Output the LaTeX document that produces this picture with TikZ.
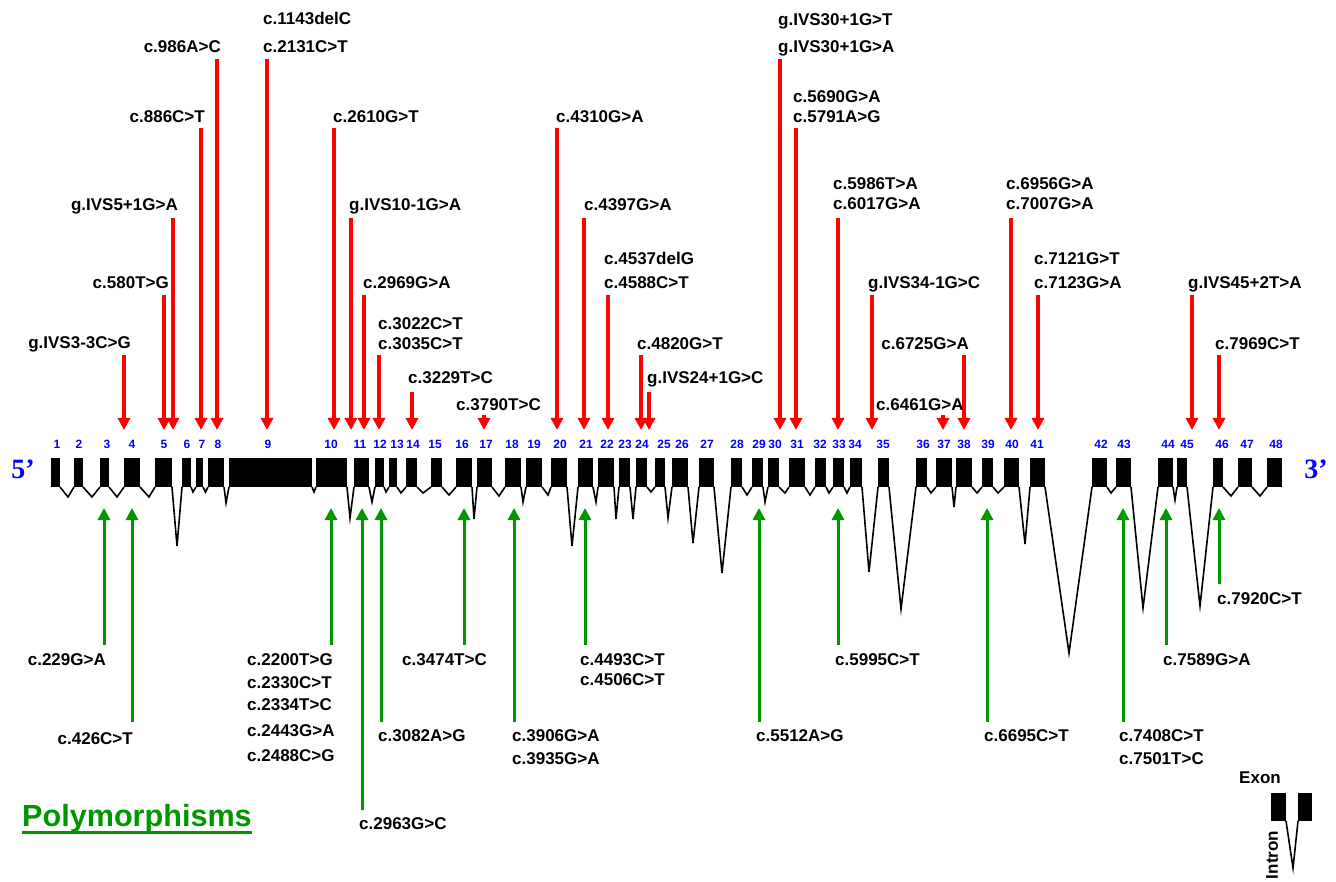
\documentclass[tikz,border=0pt]{standalone}
\usepackage{fontspec}
\setmainfont{Liberation Sans}
\newfontfamily\primefont{Liberation Serif}
\usetikzlibrary{arrows.meta}
\definecolor{mutred}{RGB}{255,0,0}
\definecolor{polygreen}{RGB}{0,150,0}
\definecolor{exblue}{RGB}{0,0,255}

\begin{document}
\begin{tikzpicture}[x=1pt,y=-1pt,
  lbl/.style={inner sep=0pt, font=\fontsize{17}{20}\selectfont\bfseries},
  num/.style={inner sep=0pt, text=exblue, font=\fontsize{12}{14}\selectfont\bfseries},
  prime/.style={inner sep=0pt, text=exblue, font=\primefont\bfseries\fontsize{28}{30}\selectfont},
  mutarrow/.style={draw=mutred, line width=3.5pt, -{Triangle[width=12pt,length=12pt]}},
  polyarrow/.style={draw=polygreen, line width=3pt, -{Triangle[width=12pt,length=12pt]}},
  exonbox/.style={fill=black, inner sep=0pt, outer sep=0pt, anchor=south west, minimum height=29pt},
  intronline/.style={draw=black, line width=1.6pt, line join=miter},
]
\useasboundingbox (0,0) rectangle (1336,882);

% ---- exons ----
\foreach \i/\a/\b in {1/51/60, 2/74/83, 3/100/109, 4/124/140, 5/155/172, 6/182/191,
  7/196/203, 8/208/224, 9/229/312, 10/316/347, 11/354/369, 12/375/384, 13/389/397,
  14/406/417, 15/431/442, 16/456/472, 17/477/492, 18/505/521, 19/526/542, 20/551/567,
  21/578/593, 22/598/614, 23/619/630, 24/636/647, 25/655/665, 26/672/688, 27/699/714,
  28/731/742, 29/752/763, 30/768/779, 31/789/805, 32/815/826, 33/833/844, 34/850/862,
  35/878/889, 36/916/927, 37/936/952, 38/956/972, 39/982/993, 40/1004/1019,
  41/1030/1045, 42/1092/1107, 43/1116/1131, 44/1158/1173, 45/1177/1187,
  46/1213/1223, 47/1238/1252, 48/1267/1282}
  \node[exonbox, minimum width={(\b-\a)*1pt}] (e\i) at (\a,487) {};

% ---- introns ----
\foreach \i/\x/\y in {1/68/497, 2/92/497, 3/117/497, 4/149/497, 5/177/546, 6/193/492,
  7/205.5/492, 8/226/503, 9/314/492, 10/350/518, 11/372/502, 12/386/492, 13/401/493,
  14/423/493, 15/449/495, 16/474/519, 17/499/496, 18/523/502, 19/548/495, 20/572/546,
  21/596/502, 22/616/519, 23/633/519, 24/651/492, 25/668/518, 26/693/543, 27/722/573,
  28/747/495, 29/765/502, 30/785/493, 31/810/495, 32/829/493, 33/847/493, 34/869/572,
  35/901/609, 36/931/493, 37/954/507, 38/977/493, 39/998/493, 40/1025/544,
  41/1069/653, 42/1111/493, 43/1143/608, 44/1175/500, 45/1200/606, 46/1231/496,
  47/1260/496}
{
  \pgfmathtruncatemacro\j{\i+1}
  \coordinate (d\i) at (\x,\y);
  \draw[intronline] (e\i.south east) -- (d\i) -- (e\j.south west);
}

% ---- exon numbers ----
\foreach \i/\x in {1/57, 2/79, 3/107, 4/132, 5/164, 6/187, 7/202, 8/218, 9/268, 10/331,
  11/360, 12/380, 13/397, 14/413, 15/435, 16/462, 17/486, 18/512, 19/534, 20/560,
  21/586, 22/607, 23/625, 24/642, 25/664, 26/682, 27/707, 28/737, 29/759, 30/775,
  31/797, 32/820, 33/839, 34/855, 35/883, 36/923, 37/944, 38/964, 39/988, 40/1012,
  41/1037, 42/1101, 43/1124, 44/1168, 45/1187, 46/1222, 47/1247, 48/1276}
  \node[num] (n\i) at (\x,444) {\i};

\node[prime] (five) at (23,469) {5’};
\node[prime] (three) at (1316,469) {3’};

% ---- mutations (red) ----
\foreach \k/\x/\t/\b in {1/124/355/430, 2/164/295/430, 3/173/218/430, 4/201/128/430,
  5/217/59/430, 6/267/59/430, 7/334/128/430, 8/351/218/430, 9/364/295/430,
  10/379/355/430, 11/412/392/430, 12/484/415/430, 13/557/128/430, 14/584/218/430,
  15/608/295/430, 16/641/355/430, 17/649/392/430, 18/780/59/430, 19/796/128/430,
  20/838/218/430, 21/872/295/430, 22/943/415/430, 23/964/355/430, 24/1011/218/430,
  25/1038/295/430, 26/1192/295/430, 27/1219/355/430}
{
  \coordinate (ms\k) at (\x,\t);
  \coordinate (me\k) at (\x,\b);
  \draw[mutarrow] (ms\k) -- (me\k);
}

\foreach \n/\x/\y/\t in {r1/131/349/g.IVS3-3C>G, r2/169/289/c.580T>G,
  r3/178/211/g.IVS5+1G>A, r4/205/123/c.886C>T, r5/221/53/c.986A>C,
  r23/969/350/c.6725G>A}
  \node[lbl, anchor=base east] (\n) at (\x,\y) {\t};

\foreach \n/\x/\y/\t in {r6a/263/25/c.1143delC, r6b/263/53/c.2131C>T,
  r7/333/123/c.2610G>T, r8/349/211/g.IVS10-1G>A, r9/363/289/c.2969G>A,
  r10a/378/330/c.3022C>T, r10b/378/350/c.3035C>T, r11/408/384/c.3229T>C,
  r12/456/410/c.3790T>C, r13/556/123/c.4310G>A, r14/584/211/c.4397G>A,
  r15a/604/265/c.4537delG, r15b/604/289/c.4588C>T, r16/637/350/c.4820G>T,
  r17/647/384/g.IVS24+1G>C, r18a/778/26/g.IVS30+1G>T, r18b/778/53/g.IVS30+1G>A,
  r19a/793/103/c.5690G>A, r19b/793/123/c.5791A>G, r20a/833/190/c.5986T>A,
  r20b/833/210/c.6017G>A, r21/868/289/g.IVS34-1G>C, r22/876/410/c.6461G>A,
  r24a/1006/190/c.6956G>A, r24b/1006/210/c.7007G>A, r25a/1034/265/c.7121G>T,
  r25b/1034/289/c.7123G>A, r26/1188/289/g.IVS45+2T>A, r27/1215/350/c.7969C>T}
  \node[lbl, anchor=base west] (\n) at (\x,\y) {\t};

% ---- polymorphisms (green) ----
\foreach \k/\x/\b in {1/104/645, 2/132/722, 3/331/645, 4/362/810, 5/381/722,
  6/464/645, 7/514/722, 8/585/645, 9/759/722, 10/838/645, 11/987/722,
  12/1123/722, 13/1166/645, 14/1219/584}
{
  \coordinate (ps\k) at (\x,\b);
  \coordinate (pe\k) at (\x,508);
  \draw[polyarrow] (ps\k) -- (pe\k);
}

\foreach \n/\x/\y/\t in {g1/106/665/c.229G>A, g2/133/744/c.426C>T,
  g6/487/665/c.3474T>C}
  \node[lbl, anchor=base east] (\n) at (\x,\y) {\t};

\foreach \n/\x/\y/\t in {g3a/247/665/c.2200T>G, g3b/247/688/c.2330C>T,
  g3c/247/710/c.2334T>C, g3d/247/736/c.2443G>A, g3e/247/761/c.2488C>G,
  g4/359/829/c.2963G>C, g5/378/741/c.3082A>G, g7a/512/741/c.3906G>A,
  g7b/512/764/c.3935G>A, g8a/580/665/c.4493C>T, g8b/580/685/c.4506C>T,
  g9/756/741/c.5512A>G, g10/835/665/c.5995C>T, g11/984/741/c.6695C>T,
  g12a/1119/741/c.7408C>T, g12b/1119/764/c.7501T>C, g13/1163/665/c.7589G>A,
  g14/1217/604/c.7920C>T}
  \node[lbl, anchor=base west] (\n) at (\x,\y) {\t};

% ---- title ----
\node[inner sep=0pt, anchor=base west, text=polygreen,
      font=\fontsize{30.6}{34}\selectfont\bfseries] (poly) at (22,826) {Polymorphisms};
\draw[polygreen, line width=2.5pt] (poly.south west) -- (poly.south east);

% ---- legend ----
\node[lbl] (exlbl) at (1260,778) {Exon};
\node[exonbox, minimum width=15pt, minimum height=28pt] (lx1) at (1271,821) {};
\node[exonbox, minimum width=14pt, minimum height=28pt] (lx2) at (1298,821) {};
\coordinate (ld) at (1293,868);
\draw[intronline] (lx1.south east) -- (ld) -- (lx2.south west);
\node[lbl, rotate=90] (inlbl) at (1272,855) {Intron};
\end{tikzpicture}
\end{document}
